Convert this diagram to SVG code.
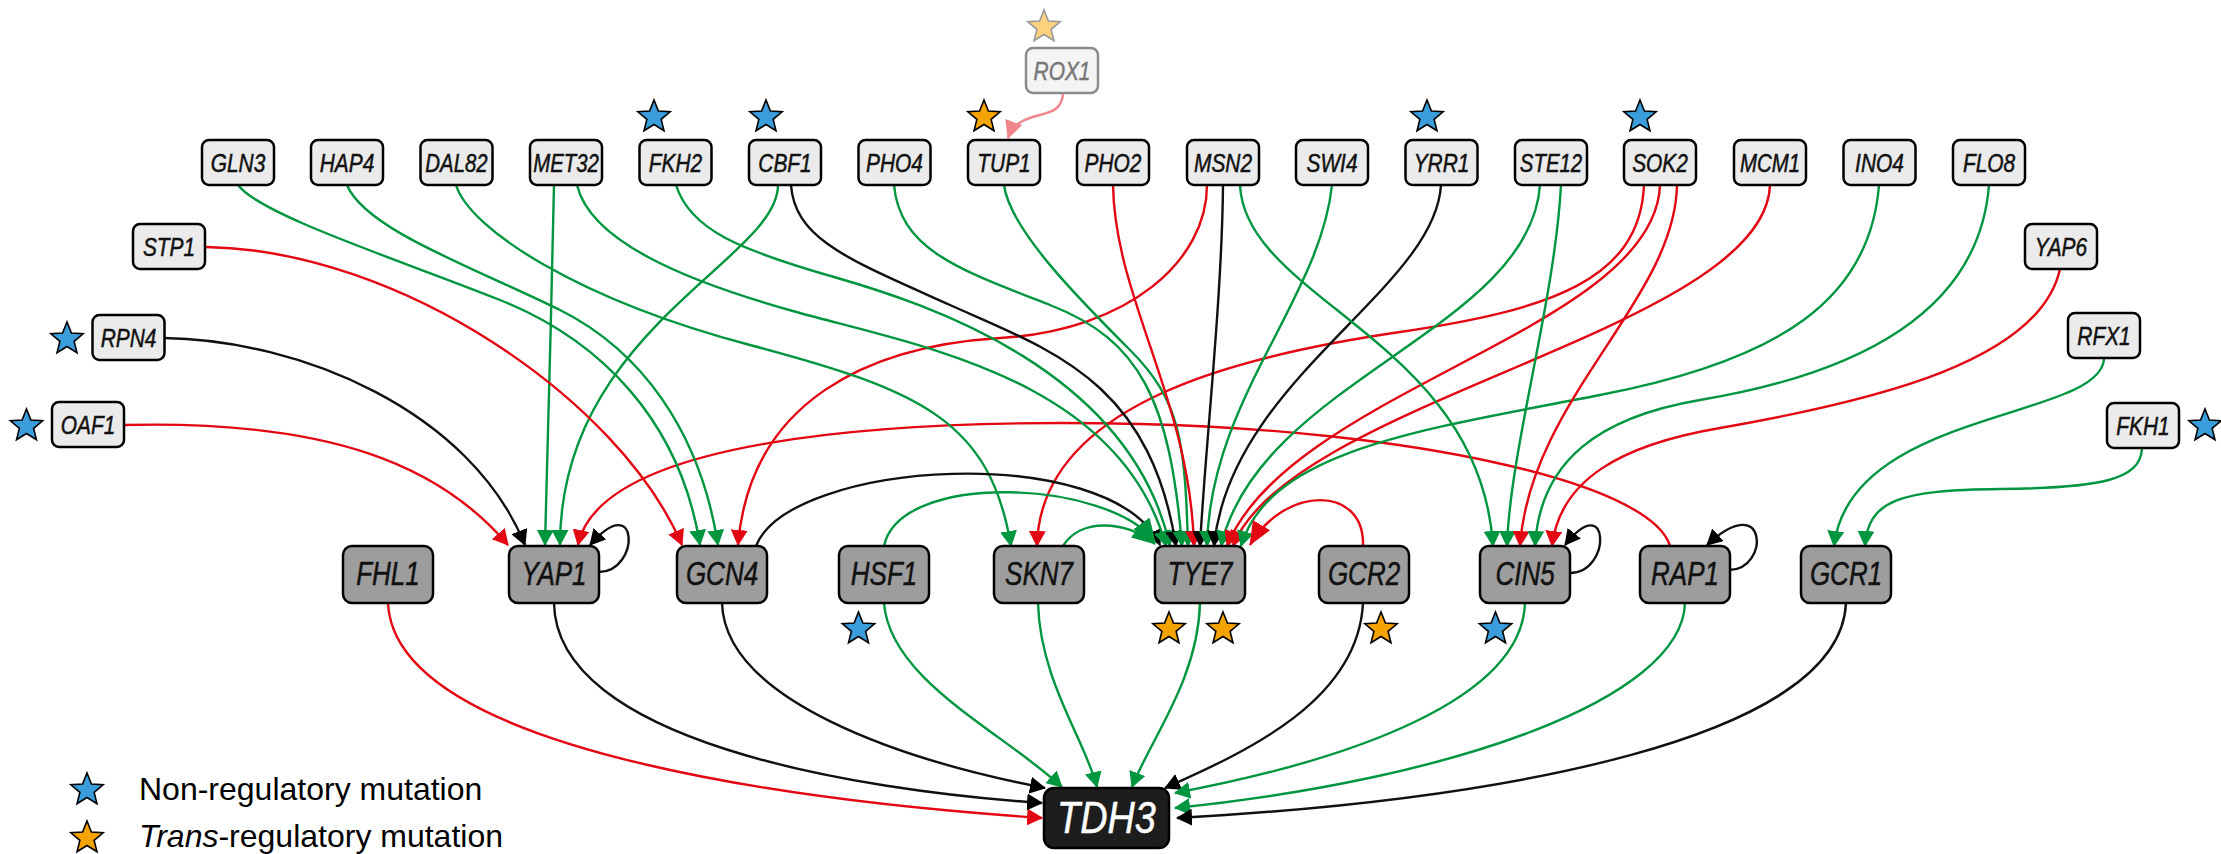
<svg xmlns="http://www.w3.org/2000/svg" xmlns:xlink="http://www.w3.org/1999/xlink" width="2221" height="854" viewBox="0 0 2221 854">
<style>
.t rect{fill:#ebebeb;stroke:#000;stroke-width:2.5}
.m rect{fill:#9d9d9d;stroke:#000;stroke-width:2.5}
.lbl{font-family:"Liberation Sans",Arial,sans-serif;font-style:italic;text-anchor:middle;fill:#111;stroke:#111;stroke-width:0.5}
.t .lbl{font-size:25.5px}
.m .lbl{font-size:32.5px}
#connectors path{fill:none;stroke-width:2.4}
.g{stroke:#009640;marker-end:url(#aG)}
.r{stroke:#e30613;marker-end:url(#aR)}
.k{stroke:#111;marker-end:url(#aK)}
.gb{stroke:#009640;marker-end:url(#aG2)}
.rb{stroke:#e30613;marker-end:url(#aR2)}
.p{stroke:#f0868c;marker-end:url(#aP)}
.sb{fill:#3b9ddb;stroke:#000;stroke-width:1.6}
.so{fill:#f5a300;stroke:#000;stroke-width:1.6}
.leg{font-family:"Liberation Sans",Arial,sans-serif;font-size:32px;fill:#000}
</style>
<defs>
<marker id="aG" viewBox="0 0 16 17" refX="15" refY="8.5" markerWidth="16" markerHeight="17" markerUnits="userSpaceOnUse" orient="auto"><path d="M0,0 L16,8.5 L0,17 Z" fill="#009640"/></marker>
<marker id="aR" viewBox="0 0 16 17" refX="15" refY="8.5" markerWidth="16" markerHeight="17" markerUnits="userSpaceOnUse" orient="auto"><path d="M0,0 L16,8.5 L0,17 Z" fill="#e30613"/></marker>
<marker id="aK" viewBox="0 0 16 17" refX="15" refY="8.5" markerWidth="16" markerHeight="17" markerUnits="userSpaceOnUse" orient="auto"><path d="M0,0 L16,8.5 L0,17 Z" fill="#000"/></marker>
<marker id="aG2" viewBox="0 0 24 20" refX="23" refY="10" markerWidth="24" markerHeight="20" markerUnits="userSpaceOnUse" orient="auto"><path d="M0,0 L24,10 L0,20 Z" fill="#009640"/></marker>
<marker id="aR2" viewBox="0 0 24 20" refX="23" refY="10" markerWidth="24" markerHeight="20" markerUnits="userSpaceOnUse" orient="auto"><path d="M0,0 L24,10 L0,20 Z" fill="#e30613"/></marker>
<marker id="aP" viewBox="0 0 18 18" refX="17" refY="9" markerWidth="18" markerHeight="18" markerUnits="userSpaceOnUse" orient="auto"><path d="M0,0 L18,9 L0,18 Z" fill="#f0868c"/></marker>
<path id="star" d="M0,-17 L4.41,-6.07 L16.17,-5.25 L7.13,2.32 L9.99,13.75 L0,7.5 L-9.99,13.75 L-7.13,2.32 L-16.17,-5.25 L-4.41,-6.07 Z"/>
</defs>
<rect width="2221" height="854" fill="#fff"/>

<g id="connectors">
<path class="r" d="M124,425 C330,420 440,465 508,545"/>
<path class="k" d="M164,338 C300,340 470,410 525,545"/>
<path class="g" d="M554,185 C552,300 547,450 545,545"/>
<path class="g" d="M778,185 C778,260 560,330 560,545"/>
<path class="r" d="M1670,546 C1650,480 1400,430 1140,424 S600,440 578,545"/>
<path class="k" d="M599,572 C640,572 640,488 590,545"/>
<path class="r" d="M206,247 C400,250 620,400 682,545"/>
<path class="g" d="M238,185 C260,215 400,260 500,300 S680,420 700,545"/>
<path class="g" d="M347,185 C365,230 480,270 560,310 S700,430 718,545"/>
<path class="r" d="M1207,185 C1207,260 1130,330 1000,338 S750,400 738,545"/>
<path class="g" d="M456,185 C470,230 580,300 750,345 S990,420 1011,546"/>
<path class="r" d="M1644,185 C1640,280 1550,310 1400,332 S1040,400 1037,546"/>
<path class="k" d="M756,546 C790,460 1110,440 1160,545"/>
<path class="gb" d="M884,546 C900,470 1110,480 1155,542"/>
<path class="gb" d="M1063,546 C1080,518 1125,520 1155,544"/>
<path class="g" d="M577,185 C590,240 680,280 800,313 S1120,380 1166,546"/>
<path class="g" d="M676,185 C690,230 740,250 834,277 S1130,370 1170,546"/>
<path class="k" d="M791,185 C795,240 850,260 950,305 S1150,380 1176,546"/>
<path class="g" d="M894,185 C900,250 960,270 1050,305 S1170,400 1182,546"/>
<path class="g" d="M1004,185 C1010,230 1080,300 1130,350 S1185,440 1188,546"/>
<path class="r" d="M1113,185 C1115,300 1190,400 1194,546"/>
<path class="k" d="M1223,185 C1222,300 1205,450 1200,546"/>
<path class="g" d="M1332,185 C1320,300 1210,400 1207,546"/>
<path class="k" d="M1441,185 C1435,290 1230,380 1214,546"/>
<path class="g" d="M1540,185 C1530,330 1260,380 1221,546"/>
<path class="r" d="M1660,185 C1655,330 1290,390 1227,546"/>
<path class="r" d="M1770,185 C1765,330 1290,400 1233,546"/>
<path class="g" d="M1879,185 C1870,300 1780,360 1600,395 S1270,450 1241,546"/>
<path class="rb" d="M1363,546 C1365,485 1285,485 1250,545"/>
<path class="g" d="M1240,185 C1245,300 1480,340 1493,546"/>
<path class="g" d="M1561,185 C1555,300 1510,450 1507,546"/>
<path class="r" d="M1677,185 C1675,300 1530,400 1520,546"/>
<path class="g" d="M1989,185 C1980,300 1880,370 1700,400 C1600,417 1540,460 1535,546"/>
<path class="r" d="M2060,269 C2040,360 1880,400 1720,428 C1620,445 1560,480 1552,546"/>
<path class="k" d="M1570,573 C1612,573 1610,488 1565,545"/>
<path class="g" d="M2104,359 C2100,420 1850,410 1834,546"/>
<path class="g" d="M2142,449 C2140,480 2100,488 2000,489 C1900,490 1868,500 1865,546"/>
<path class="k" d="M1729,570 C1770,570 1768,488 1707,545"/>
<path class="p" d="M1063,93 C1062,125 1020,105 1008,138"/>
<path class="r" d="M388,603 C395,760 850,805 1042,818"/>
<path class="k" d="M554,603 C556,740 850,790 1042,803"/>
<path class="k" d="M722,603 C725,700 900,760 1045,788"/>
<path class="g" d="M884,603 C890,680 1000,730 1062,787"/>
<path class="g" d="M1038,603 C1040,680 1085,740 1097,787"/>
<path class="g" d="M1200,603 C1198,680 1150,740 1132,787"/>
<path class="k" d="M1363,603 C1358,700 1250,750 1165,788"/>
<path class="g" d="M1525,603 C1522,700 1350,760 1175,793"/>
<path class="g" d="M1685,603 C1682,700 1450,780 1175,808"/>
<path class="k" d="M1846,603 C1840,740 1500,800 1177,818"/>
</g>

<g id="nodes">
<g id="GLN3" class="t"><rect x="202" y="140" width="72" height="45" rx="7"/><text class="lbl" transform="translate(238 171.5) scale(0.82 1)">GLN3</text></g>
<g id="HAP4" class="t"><rect x="311" y="140" width="72" height="45" rx="7"/><text class="lbl" transform="translate(347 171.5) scale(0.82 1)">HAP4</text></g>
<g id="DAL82" class="t"><rect x="420.5" y="140" width="72" height="45" rx="7"/><text class="lbl" transform="translate(456.5 171.5) scale(0.8 1)">DAL82</text></g>
<g id="MET32" class="t"><rect x="530" y="140" width="72" height="45" rx="7"/><text class="lbl" transform="translate(566 171.5) scale(0.8 1)">MET32</text></g>
<g id="FKH2" class="t"><rect x="639.5" y="140" width="72" height="45" rx="7"/><text class="lbl" transform="translate(675.5 171.5) scale(0.82 1)">FKH2</text></g>
<g id="CBF1" class="t"><rect x="749" y="140" width="72" height="45" rx="7"/><text class="lbl" transform="translate(785 171.5) scale(0.82 1)">CBF1</text></g>
<g id="PHO4" class="t"><rect x="858.5" y="140" width="72" height="45" rx="7"/><text class="lbl" transform="translate(894.5 171.5) scale(0.82 1)">PHO4</text></g>
<g id="TUP1" class="t"><rect x="968" y="140" width="72" height="45" rx="7"/><text class="lbl" transform="translate(1004 171.5) scale(0.82 1)">TUP1</text></g>
<g id="PHO2" class="t"><rect x="1077" y="140" width="72" height="45" rx="7"/><text class="lbl" transform="translate(1113 171.5) scale(0.82 1)">PHO2</text></g>
<g id="MSN2" class="t"><rect x="1187" y="140" width="72" height="45" rx="7"/><text class="lbl" transform="translate(1223 171.5) scale(0.82 1)">MSN2</text></g>
<g id="SWI4" class="t"><rect x="1296" y="140" width="72" height="45" rx="7"/><text class="lbl" transform="translate(1332 171.5) scale(0.82 1)">SWI4</text></g>
<g id="YRR1" class="t"><rect x="1405.5" y="140" width="72" height="45" rx="7"/><text class="lbl" transform="translate(1441.5 171.5) scale(0.82 1)">YRR1</text></g>
<g id="STE12" class="t"><rect x="1515" y="140" width="72" height="45" rx="7"/><text class="lbl" transform="translate(1551 171.5) scale(0.8 1)">STE12</text></g>
<g id="SOK2" class="t"><rect x="1624" y="140" width="72" height="45" rx="7"/><text class="lbl" transform="translate(1660 171.5) scale(0.82 1)">SOK2</text></g>
<g id="MCM1" class="t"><rect x="1734" y="140" width="72" height="45" rx="7"/><text class="lbl" transform="translate(1770 171.5) scale(0.8 1)">MCM1</text></g>
<g id="INO4" class="t"><rect x="1843.5" y="140" width="72" height="45" rx="7"/><text class="lbl" transform="translate(1879.5 171.5) scale(0.82 1)">INO4</text></g>
<g id="FLO8" class="t"><rect x="1953" y="140" width="72" height="45" rx="7"/><text class="lbl" transform="translate(1989 171.5) scale(0.82 1)">FLO8</text></g>
<g id="STP1" class="t"><rect x="133" y="224" width="72" height="45" rx="7"/><text class="lbl" transform="translate(169 255.5) scale(0.82 1)">STP1</text></g>
<g id="RPN4" class="t"><rect x="92.5" y="315" width="72" height="45" rx="7"/><text class="lbl" transform="translate(128.5 346.5) scale(0.82 1)">RPN4</text></g>
<g id="OAF1" class="t"><rect x="52" y="402" width="72" height="45" rx="7"/><text class="lbl" transform="translate(88 433.5) scale(0.82 1)">OAF1</text></g>
<g id="YAP6" class="t"><rect x="2025" y="224" width="72" height="45" rx="7"/><text class="lbl" transform="translate(2061 255.5) scale(0.82 1)">YAP6</text></g>
<g id="RFX1" class="t"><rect x="2068" y="313" width="72" height="45" rx="7"/><text class="lbl" transform="translate(2104 344.5) scale(0.82 1)">RFX1</text></g>
<g id="FKH1" class="t"><rect x="2107" y="403" width="72" height="45" rx="7"/><text class="lbl" transform="translate(2143 434.5) scale(0.82 1)">FKH1</text></g>
<g id="ROX1"><rect x="1026" y="48" width="72" height="45" rx="7" fill="#f4f4f4" stroke="#8a8a8a" stroke-width="2.5"/><text class="lbl" font-size="25.5" style="fill:#777;stroke:#777" transform="translate(1062 79.5) scale(0.82 1)">ROX1</text></g>

<g id="FHL1" class="m"><rect x="343" y="546" width="90" height="57" rx="9"/><text class="lbl" transform="translate(388 585) scale(0.8 1)">FHL1</text></g>
<g id="YAP1" class="m"><rect x="509" y="546" width="90" height="57" rx="9"/><text class="lbl" transform="translate(554 585) scale(0.8 1)">YAP1</text></g>
<g id="GCN4" class="m"><rect x="677" y="546" width="90" height="57" rx="9"/><text class="lbl" transform="translate(722 585) scale(0.8 1)">GCN4</text></g>
<g id="HSF1" class="m"><rect x="839" y="546" width="90" height="57" rx="9"/><text class="lbl" transform="translate(884 585) scale(0.8 1)">HSF1</text></g>
<g id="SKN7" class="m"><rect x="994" y="546" width="90" height="57" rx="9"/><text class="lbl" transform="translate(1039 585) scale(0.8 1)">SKN7</text></g>
<g id="TYE7" class="m"><rect x="1155" y="546" width="90" height="57" rx="9"/><text class="lbl" transform="translate(1200 585) scale(0.8 1)">TYE7</text></g>
<g id="GCR2" class="m"><rect x="1319" y="546" width="90" height="57" rx="9"/><text class="lbl" transform="translate(1364 585) scale(0.8 1)">GCR2</text></g>
<g id="CIN5" class="m"><rect x="1480" y="546" width="90" height="57" rx="9"/><text class="lbl" transform="translate(1525 585) scale(0.8 1)">CIN5</text></g>
<g id="RAP1" class="m"><rect x="1640" y="546" width="90" height="57" rx="9"/><text class="lbl" transform="translate(1685 585) scale(0.8 1)">RAP1</text></g>
<g id="GCR1" class="m"><rect x="1801" y="546" width="90" height="57" rx="9"/><text class="lbl" transform="translate(1846 585) scale(0.8 1)">GCR1</text></g>

<g id="TDH3"><rect x="1044" y="788" width="125" height="60" rx="10" fill="#1d1d1d" stroke="#000" stroke-width="2.5"/><text class="lbl" font-size="44" style="fill:#fff;stroke:#fff" transform="translate(1106.5 833) scale(0.86 1)">TDH3</text></g>
</g>

<g id="stars">
<use xlink:href="#star" href="#star" x="1044" y="27" fill="#fcd27e" stroke="#999" stroke-width="1.6"/>
<use xlink:href="#star" href="#star" class="sb" x="654" y="117"/>
<use xlink:href="#star" href="#star" class="sb" x="766" y="117"/>
<use xlink:href="#star" href="#star" class="so" x="984" y="117"/>
<use xlink:href="#star" href="#star" class="sb" x="1427" y="117"/>
<use xlink:href="#star" href="#star" class="sb" x="1640" y="117"/>
<use xlink:href="#star" href="#star" class="sb" x="67" y="339"/>
<use xlink:href="#star" href="#star" class="sb" x="26.5" y="426"/>
<use xlink:href="#star" href="#star" class="sb" x="2205" y="426"/>
<use xlink:href="#star" href="#star" class="sb" x="858.5" y="629"/>
<use xlink:href="#star" href="#star" class="so" x="1169" y="629"/>
<use xlink:href="#star" href="#star" class="so" x="1223" y="629"/>
<use xlink:href="#star" href="#star" class="so" x="1381" y="629"/>
<use xlink:href="#star" href="#star" class="sb" x="1495.5" y="629"/>
</g>

<g id="legend">
<use xlink:href="#star" href="#star" class="sb" x="87" y="790"/>
<use xlink:href="#star" href="#star" class="so" x="87" y="838"/>
<text class="leg" x="139" y="800">Non-regulatory mutation</text>
<text class="leg" x="139" y="847"><tspan font-style="italic">Trans</tspan>-regulatory mutation</text>
</g>
</svg>
